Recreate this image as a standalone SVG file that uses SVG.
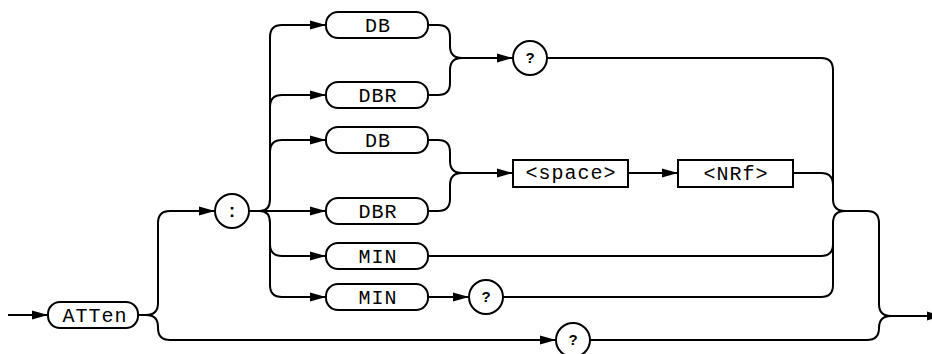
<svg xmlns="http://www.w3.org/2000/svg" width="932" height="354" viewBox="0 0 932 354">
<style>
.ln{fill:none;stroke:#000;stroke-width:2;stroke-linejoin:round}
.ar{marker-end:url(#ah)}
.pill{fill:#fff;stroke:#000;stroke-width:2}
.box{fill:#fff;stroke:#000;stroke-width:2}
.t{font-family:"Courier New",Courier,"Nimbus Mono PS",FreeMono,"Liberation Mono",monospace;font-size:20px;letter-spacing:1px;text-anchor:middle;fill:#000}
.c{font-family:"Liberation Sans",Arial,sans-serif;font-size:15px;font-weight:bold;text-anchor:middle;fill:#000}
</style>
<defs>
<marker id="ah" markerUnits="userSpaceOnUse" markerWidth="16" markerHeight="10" refX="16" refY="5" orient="auto">
<path d="M0,0.5 L16,5 L0,9.5 Z" fill="#000"/>
</marker>
</defs>
<rect width="932" height="354" fill="#fff"/>
<g id="connectors">
<path class="ln ar" d="M8,315 H48"/>
<path class="ln ar" d="M138,315 H146 Q158,315 158,303 V223 Q158,211 170,211 H215"/>
<path class="ln ar" d="M146,315 Q158,315 158,327 V328 Q158,340 170,340 H556"/>
<path class="ln ar" d="M249,211 H326"/>
<path class="ln ar" d="M260,211 Q270,211 270,199 V37 Q270,25 282,25 H326"/>
<path class="ln ar" d="M270,107 Q270,95 282,95 H326"/>
<path class="ln ar" d="M270,152 Q270,140 282,140 H326"/>
<path class="ln ar" d="M260,211 Q270,211 270,223 V285 Q270,297 282,297 H326"/>
<path class="ln ar" d="M270,244 Q270,256 282,256 H326"/>
<path class="ln ar" d="M428,25 H438 Q450,25 450,37 V46 Q450,58 462,58 H513"/>
<path class="ln" d="M428,95 H438 Q450,95 450,83 V70 Q450,58 462,58"/>
<path class="ln ar" d="M428,140 H438 Q450,140 450,152 V161 Q450,173 462,173 H513"/>
<path class="ln" d="M428,211 H438 Q450,211 450,199 V185 Q450,173 462,173"/>
<path class="ln ar" d="M628,173 H678"/>
<path class="ln ar" d="M428,297 H469"/>
<path class="ln" d="M547,58 H821 Q833,58 833,70 V199 Q833,211 845,211 H867 Q879,211 879,223 V304 Q879,316 891,316 H931"/>
<path class="ln ar" d="M891,316 H943"/>
<path class="ln" d="M793,173 H821 Q833,173 833,185"/>
<path class="ln" d="M428,256 H821 Q833,256 833,244"/>
<path class="ln" d="M845,211 Q833,211 833,223 V285 Q833,297 821,297 H503"/>
<path class="ln" d="M590,340 H867 Q879,340 879,328 Q879,316 891,316"/>
</g>
<g id="atten"><rect class="pill" x="48" y="302" width="90" height="26" rx="12"/><text class="t" x="95" y="322">ATTen</text></g>
<g id="colon"><circle class="pill" cx="232" cy="211" r="17"/><text class="c" x="232" y="217" style="font-size:18px">:</text></g>
<g id="db1"><rect class="pill" x="326" y="12" width="102" height="26" rx="12"/><text class="t" x="378" y="32">DB</text></g>
<g id="dbr1"><rect class="pill" x="326" y="82" width="102" height="26" rx="12"/><text class="t" x="378" y="102">DBR</text></g>
<g id="db2"><rect class="pill" x="326" y="127" width="102" height="26" rx="12"/><text class="t" x="378" y="147">DB</text></g>
<g id="dbr2"><rect class="pill" x="326" y="198" width="102" height="26" rx="12"/><text class="t" x="378" y="218">DBR</text></g>
<g id="min1"><rect class="pill" x="326" y="243" width="102" height="26" rx="12"/><text class="t" x="378" y="263">MIN</text></g>
<g id="min2"><rect class="pill" x="326" y="284" width="102" height="26" rx="12"/><text class="t" x="378" y="304">MIN</text></g>
<g id="q-top"><circle class="pill" cx="530" cy="58" r="17"/><text class="c" x="530" y="63">?</text></g>
<g id="q-min"><circle class="pill" cx="486" cy="297" r="17"/><text class="c" x="486" y="302">?</text></g>
<g id="q-bottom"><circle class="pill" cx="573" cy="340" r="17"/><text class="c" x="573" y="345">?</text></g>
<g id="space"><rect class="box" x="513" y="160" width="115" height="27"/><text class="t" x="571" y="179">&lt;space&gt;</text></g>
<g id="nrf"><rect class="box" x="678" y="160" width="115" height="27"/><text class="t" x="736" y="180">&lt;NRf&gt;</text></g>
</svg>
